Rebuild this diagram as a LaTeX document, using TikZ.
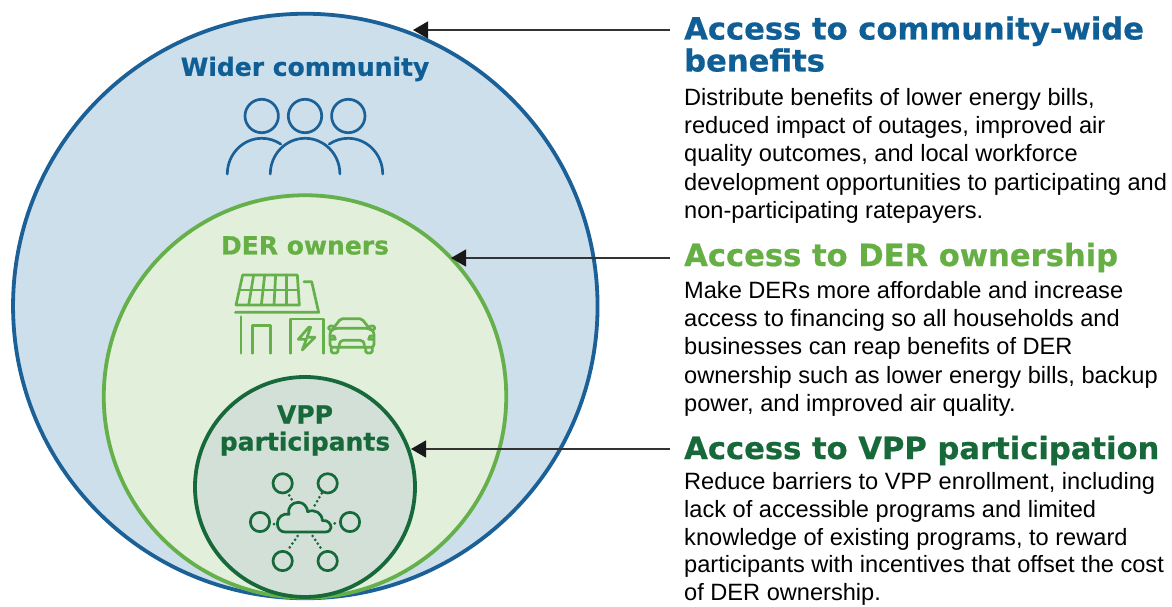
\documentclass[tikz,border=0pt]{standalone}
\usepackage{fontspec}
\setmainfont{Liberation Sans}
\newfontfamily\headfont[FakeBold=0.6]{DejaVu Sans Bold}
\usetikzlibrary{arrows.meta}
\definecolor{blueS}{HTML}{1B6198}
\definecolor{blueF}{HTML}{CDDFEB}
\definecolor{greenS}{HTML}{66B04B}
\definecolor{greenF}{HTML}{E1EFDB}
\definecolor{darkS}{HTML}{17693A}
\definecolor{darkF}{HTML}{D3E0D8}
\definecolor{blueT}{HTML}{0F5F96}
\definecolor{greenT}{HTML}{66AF45}
\tikzset{
 x=1pt,y=1pt,
 ring/.style={draw=#1S,fill=#1F,line width=3.8pt},
 clabel/.style={font=\headfont\fontsize{25}{27}\selectfont,align=center,inner sep=0pt,anchor=center},
 head/.style={font=\headfont\fontsize{30.6}{32}\selectfont,align=left,inner sep=0pt,anchor=base west},
 body/.style={font=\fontsize{23.6}{28.3}\selectfont,align=left,inner sep=0pt,anchor=north west,text=black},
 pointer/.style={draw=black!80,line width=1.4pt,-{Triangle[length=15pt,width=17pt,color=black!90,fill=black!90]}},
 icon/.style={line width=2.7pt,line cap=round,line join=round},
}
\begin{document}
\begin{tikzpicture}
\useasboundingbox (0,0) rectangle (1172,-607);
\fill[white] (0,0) rectangle (1172,-607);
\node[ring=blue,circle,minimum size=584.5pt,inner sep=0pt] (outer) at (305.3,-306) {};
\node[ring=green,circle,minimum size=402.5pt,inner sep=0pt] (mid) at (305,-396.5) {};
\node[ring=dark,circle,minimum size=220pt,inner sep=0pt] (inner) at (305,-487) {};

\node[clabel,text=blueT] (l1) at (305,-69) {Wider community};
\node[clabel,text=greenT] (l2) at (305,-245.5) {DER owners};
\node[clabel,text=darkS] (l3) at (305,-430.5) {VPP\\participants};

% people icon
\begin{scope}[icon,draw=blueS]
\draw (261.7,-116) circle (16.7);
\draw (305,-116) circle (16.7);
\draw (348.3,-116) circle (16.7);
\draw (227.3,-174) arc[start angle=180,end angle=57,x radius=34.6,y radius=35.7];
\draw (270.3,-174) arc[start angle=180,end angle=0,x radius=34.8,y radius=35.7];
\draw (382.7,-174) arc[start angle=0,end angle=123,x radius=34.6,y radius=35.7];
\end{scope}

% home icon
\begin{scope}[shift={(210,-260)},x=0.33333pt,y=-0.33333pt,icon,draw=greenS]
\draw (98,45) -- (262,45) -- (268,135) -- (78,135) -- cycle;
\draw (88,90) -- (265,90);
\draw (131,45) -- (116,135);
\draw (164,45) -- (154,135);
\draw (197,45) -- (192,135);
\draw (230,45) -- (230,135);
\draw (76,157) -- (326,157) -- (305,65) -- (282,65);
\draw (93,170) -- (93,280);
\draw (128,280) -- (128,197) -- (182,197) -- (182,280);
\draw (241,280) -- (241,177) -- (340,177) -- (340,280);
\draw (296,202) -- (265,238) -- (289,238) -- (277,270) -- (315,232) -- (291,232) -- (302,202) -- cycle;
% car
\draw[rounded corners=2pt] (370,205) -- (392,176) -- (455,176) -- (478,205);
\draw[rounded corners=3pt] (360,214) -- (372,205) -- (478,205) -- (492,214) -- (492,262) -- (360,262) -- cycle;
\draw[rounded corners=1.5pt] (356,198) rectangle (372,210);
\draw[rounded corners=1.5pt] (478,198) rectangle (494,210);
\draw[rounded corners=1.5pt] (364,262) -- (364,279) -- (384,279) -- (384,262);
\draw[rounded corners=1.5pt] (467,262) -- (467,279) -- (487,279) -- (487,262);
\draw[rounded corners=4pt] (388,262) -- (388,241) -- (463,241) -- (463,262);
\draw (362,228) -- (372,228) -- (376,238) -- (362,238);
\draw (490,228) -- (480,228) -- (476,238) -- (490,238);
\end{scope}

% cloud icon
\begin{scope}[shift={(230,-460)},x=0.33333pt,y=-0.33333pt,icon,draw=darkS]
\foreach \cx/\cy in {158/70,293/70,90/186,360/186,158/303,293/303}
  \draw (\cx,\cy) circle (29);
\draw (165,216) .. controls (150,216) and (142,204) .. (142,190)
  .. controls (142,172) and (160,158) .. (177,163)
  .. controls (172,142) and (186,127) .. (205,127)
  .. controls (220,127) and (232,140) .. (233,155)
  .. controls (255,146) and (277,160) .. (277,182)
  .. controls (292,178) and (304,192) .. (303,203)
  .. controls (302,211) and (296,216) .. (285,216) -- cycle;
\begin{scope}[line width=3pt,dash pattern=on 0pt off 4.6pt]
\draw (178,106) -- (190,126);
\draw (275,100) -- (250,143);
\draw (132,192) -- (136,192);
\draw (314,190) -- (318,190);
\draw (203,228) -- (175,268);
\draw (248,228) -- (275,268);
\end{scope}
\end{scope}

% text
\node[head,text=blueT] (h1) at (684,-71.5) {Access to community-wide\\benefits};
\node[body] (b1) at (684,-88) {Distribute benefits of lower energy bills,\\reduced impact of outages, improved air\\quality outcomes, and local workforce\\development opportunities to participating and\\non-participating ratepayers.};
\node[head,text=greenT] (h2) at (684,-266) {Access to DER ownership};
\node[body] (b2) at (684,-281) {Make DERs more affordable and increase\\access to financing so all households and\\businesses can reap benefits of DER\\ownership such as lower energy bills, backup\\power, and improved air quality.};
\node[head,text=darkS] (h3) at (684,-459) {Access to VPP participation};
\node[body,font=\fontsize{23.6}{27.7}\selectfont] (b3) at (684,-472.5) {Reduce barriers to VPP enrollment, including\\lack of accessible programs and limited\\knowledge of existing programs, to reward\\participants with incentives that offset the cost\\of DER ownership.};

\coordinate (s1) at (670,-30);
\coordinate (s2) at (670,-258);
\coordinate (s3) at (670,-449);
\coordinate (e1) at (413,-30);
\coordinate (e2) at (451,-258);
\coordinate (e3) at (411,-449);
\draw[pointer] (s1) -- (e1);
\draw[pointer] (s2) -- (e2);
\draw[pointer] (s3) -- (e3);
\end{tikzpicture}
\end{document}
